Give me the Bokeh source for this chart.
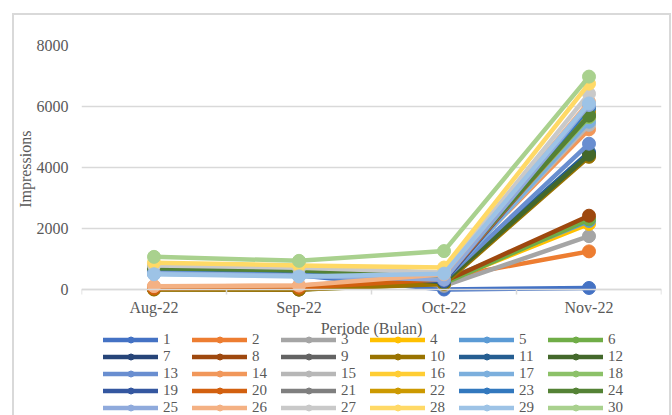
from bokeh.plotting import figure
from bokeh.models import FixedTicker, Label, Legend, LegendItem, Range1d, Title
from bokeh.embed import file_html
from bokeh.resources import INLINE

# Monthly impressions per account (accounts 1..30)
months = ["Aug-22", "Sep-22", "Oct-22", "Nov-22"]
accounts = [str(i) for i in range(1, 31)]

impressions_aug = [540, 60, 620, 700, 560, 10, 640, 20, 680, 0,
                   600, 650, 580, 90, 720, 760, 520, 690, 610, 40,
                   660, 740, 570, 700, 530, 110, 790, 880, 500, 1070]
impressions_sep = [470, 80, 530, 620, 480, 0, 560, 0, 590, 0,
                   520, 570, 500, 120, 640, 680, 450, 610, 530, 60,
                   580, 650, 490, 620, 460, 130, 710, 790, 430, 940]
impressions_oct = [0, 380, 120, 250, 300, 200, 220, 260, 330, 180,
                   280, 240, 310, 420, 350, 450, 290, 400, 270, 340,
                   380, 470, 360, 430, 320, 500, 560, 720, 520, 1260]
impressions_nov = [50, 1250, 1750, 2150, 2250, 2300, 4400, 2420, 4450, 4350,
                   4500, 4420, 4780, 5250, 5400, 5600, 5500, 5650, 5800, 5720,
                   5750, 5850, 5950, 5700, 6050, 6150, 6420, 6750, 6100, 6980]

y_ticks = [0, 2000, 4000, 6000, 8000]
y_max = 8000

palette = ["#4472C4", "#ED7D31", "#A5A5A5", "#FFC000", "#5B9BD5", "#70AD47",
           "#264478", "#9E480E", "#636363", "#997300", "#255E91", "#43682B",
           "#698ED0", "#F1975A", "#B7B7B7", "#FFCD33", "#7CAFDD", "#8CC168",
           "#3457A0", "#D2600F", "#7F7F7F", "#CC9900", "#3278BE", "#548235",
           "#8FAADC", "#F4B183", "#C9C9C9", "#FFD966", "#9DC3E6", "#A9D18E"]

FONT = "Liberation Serif"
TEXT = "#595959"
GRID = "#d9d9d9"

# The frame reaches below the value axis so the legend can sit under it;
# the 0..y_max band occupies the top PLOT_H pixels of the frame.
PLOT_H = 244
FRAME_H = 380
y_start = -y_max * (FRAME_H - PLOT_H) / PLOT_H
units_per_px = y_max / PLOT_H

p = figure(frame_width=580, frame_height=FRAME_H,
           output_backend="svg", toolbar_location=None,
           x_range=Range1d(-0.5, len(months) - 0.5),
           y_range=Range1d(y_start, y_max),
           min_border_left=64, min_border_right=8, min_border_top=30,
           min_border_bottom=0)
p.outline_line_color = None
p.background_fill_color = "white"
p.border_fill_color = "white"
# chart-area frame
p.margin = (13, 0, 0, 12)
p.styles = {"border": "2px solid #d9d9d9"}

# category axis at value 0: labels at the centres, small ticks between categories
xpos = list(range(len(months)))
xax = p.xaxis[0]
xax.fixed_location = 0
xax.ticker = FixedTicker(ticks=xpos,
                         minor_ticks=[x - 0.5 for x in xpos] + [len(months) - 0.5])
xax.major_label_overrides = {x: m for x, m in zip(xpos, months)}
xax.major_tick_line_color = None
xax.major_tick_out = 0
xax.major_tick_in = 0
xax.minor_tick_in = 0
xax.minor_tick_out = 5
xax.minor_tick_line_color = GRID
xax.minor_tick_line_width = 1.5
xax.axis_line_color = GRID
xax.axis_line_width = 1.5
xax.major_label_standoff = 4
xax.major_label_text_font = FONT
xax.major_label_text_font_size = "16px"
xax.major_label_text_color = TEXT

yax = p.yaxis[0]
yax.ticker = FixedTicker(ticks=y_ticks)
yax.axis_line_color = None
yax.major_tick_line_color = None
yax.major_tick_out = 0
yax.major_tick_in = 0
yax.minor_tick_line_color = None
yax.major_label_standoff = 13
yax.major_label_text_font = FONT
yax.major_label_text_font_size = "16px"
yax.major_label_text_color = TEXT

# value-axis title, centred on the 0..y_max band
p.add_layout(Title(text="Impressions", align="right", offset=85, standoff=0,
                   text_font=FONT, text_font_size="16px",
                   text_font_style="normal", text_color=TEXT), "left")

p.add_layout(Label(x=(len(months) - 1) / 2, y=-39 * units_per_px,
                   text="Periode (Bulan)", text_align="center",
                   text_baseline="middle", text_font=FONT,
                   text_font_size="16px", text_color=TEXT))

p.xgrid.visible = False
p.ygrid.grid_line_color = GRID
p.ygrid.grid_line_width = 1.5

items = []
for i, name in enumerate(accounts):
    vals = [impressions_aug[i], impressions_sep[i], impressions_oct[i], impressions_nov[i]]
    col = palette[i]
    ln = p.line(xpos, vals, line_color=col, line_width=4.5,
                line_join="round", line_cap="round")
    mk = p.scatter(xpos, vals, size=13, fill_color=col, line_color=col)
    items.append(LegendItem(label=name, renderers=[ln, mk]))

legend = Legend(items=items, orientation="horizontal", ncols=6,
                location=(22, 9.5),
                glyph_width=55, glyph_height=15, label_width=29,
                label_height=15, label_standoff=5, spacing=0,
                padding=0, margin=0,
                label_text_font=FONT, label_text_font_size="15px",
                label_text_color=TEXT,
                border_line_color=None, background_fill_alpha=0)
p.add_layout(legend, "center")

open("out.html", "w").write(file_html(p, INLINE))
